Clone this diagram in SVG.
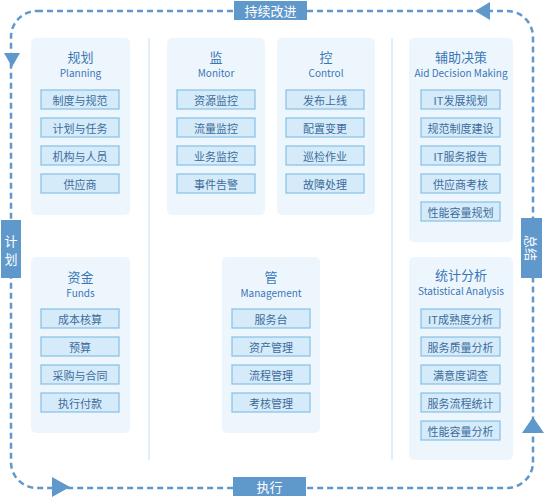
<svg xmlns="http://www.w3.org/2000/svg" width="545" height="500" viewBox="0 0 545 500">
<style>
text{font-family:"Noto Sans CJK SC","Noto Sans",sans-serif;}
.panel{fill:#EEF6FD;}
.item{fill:#D6EBF9;stroke:#86C0E6;stroke-width:1.2;}
.it{font-size:11px;fill:#3D6C9C;text-anchor:middle;dominant-baseline:central;}
.t1{font-size:13px;fill:#3A76B6;text-anchor:middle;dominant-baseline:central;}
.t2{font-size:10px;fill:#3A76B6;text-anchor:middle;dominant-baseline:central;}
.lab{fill:#5F98CB;}
.lt{font-size:13px;fill:#FFFFFF;text-anchor:middle;dominant-baseline:central;}
.loop{fill:none;stroke:#5F98CB;stroke-width:2.5;stroke-dasharray:6 4;}
.arr{fill:#5F98CB;}
.div{stroke:#D6E9F8;stroke-width:1.5;}
</style>
<g id="connectors">
<rect class="loop" x="11" y="11" width="522" height="477" rx="26"/>
<polygon class="arr" points="475,11 490,2 490,20"/>
<polygon class="arr" points="12,67 4,53 20,53"/>
<polygon class="arr" points="70,487 52,477 52,497"/>
<polygon class="arr" points="533,417 522,433 544,433"/>
</g>
<g id="dividers">
<line class="div" x1="149" y1="38" x2="149" y2="460"/>
<line class="div" x1="392" y1="38" x2="392" y2="460"/>
</g>
<g id="label-top"><rect class="lab" x="234" y="1" width="73" height="19"/><text class="lt" x="270.5" y="10.5">持续改进</text></g>
<g id="label-bottom"><rect class="lab" x="233" y="477" width="73" height="19"/><text class="lt" x="269.5" y="486.5">执行</text></g>
<g id="label-left"><rect class="lab" x="1" y="220" width="20" height="58"/><text class="lt" x="11" y="240">计</text><text class="lt" x="11" y="258">划</text></g>
<g id="label-right"><rect class="lab" x="521" y="218" width="21" height="60"/><text class="lt" transform="translate(531.5,248) rotate(90)" x="0" y="0">总结</text></g>
<g id="planning">
<rect class="panel" x="31" y="38" width="99" height="177" rx="5"/>
<text class="t1" x="80.5" y="56">规划</text><text class="t2" x="80.5" y="72">Planning</text>
<rect class="item" x="41" y="90" width="78" height="19"/><text class="it" x="80" y="99.5">制度与规范</text>
<rect class="item" x="41" y="118" width="78" height="19"/><text class="it" x="80" y="127.5">计划与任务</text>
<rect class="item" x="41" y="146" width="78" height="19"/><text class="it" x="80" y="155.5">机构与人员</text>
<rect class="item" x="41" y="174" width="78" height="19"/><text class="it" x="80" y="183.5">供应商</text>
</g>
<g id="funds">
<rect class="panel" x="31" y="257" width="99" height="176" rx="5"/>
<text class="t1" x="80.5" y="276">资金</text><text class="t2" x="80.5" y="292">Funds</text>
<rect class="item" x="41" y="309" width="78" height="19"/><text class="it" x="80" y="318.5">成本核算</text>
<rect class="item" x="41" y="337" width="78" height="19"/><text class="it" x="80" y="346.5">预算</text>
<rect class="item" x="41" y="365" width="78" height="19"/><text class="it" x="80" y="374.5">采购与合同</text>
<rect class="item" x="41" y="393" width="78" height="19"/><text class="it" x="80" y="402.5">执行付款</text>
</g>
<g id="monitor">
<rect class="panel" x="167" y="38" width="98" height="177" rx="5"/>
<text class="t1" x="216" y="56">监</text><text class="t2" x="216" y="72">Monitor</text>
<rect class="item" x="177" y="90" width="78" height="19"/><text class="it" x="216" y="99.5">资源监控</text>
<rect class="item" x="177" y="118" width="78" height="19"/><text class="it" x="216" y="127.5">流量监控</text>
<rect class="item" x="177" y="146" width="78" height="19"/><text class="it" x="216" y="155.5">业务监控</text>
<rect class="item" x="177" y="174" width="78" height="19"/><text class="it" x="216" y="183.5">事件告警</text>
</g>
<g id="control">
<rect class="panel" x="277" y="38" width="98" height="177" rx="5"/>
<text class="t1" x="326" y="56">控</text><text class="t2" x="326" y="72">Control</text>
<rect class="item" x="286" y="90" width="78" height="19"/><text class="it" x="325" y="99.5">发布上线</text>
<rect class="item" x="286" y="118" width="78" height="19"/><text class="it" x="325" y="127.5">配置变更</text>
<rect class="item" x="286" y="146" width="78" height="19"/><text class="it" x="325" y="155.5">巡检作业</text>
<rect class="item" x="286" y="174" width="78" height="19"/><text class="it" x="325" y="183.5">故障处理</text>
</g>
<g id="management">
<rect class="panel" x="222" y="257" width="98" height="176" rx="5"/>
<text class="t1" x="271" y="276">管</text><text class="t2" x="271" y="292">Management</text>
<rect class="item" x="232" y="309" width="78" height="19"/><text class="it" x="271" y="318.5">服务台</text>
<rect class="item" x="232" y="337" width="78" height="19"/><text class="it" x="271" y="346.5">资产管理</text>
<rect class="item" x="232" y="365" width="78" height="19"/><text class="it" x="271" y="374.5">流程管理</text>
<rect class="item" x="232" y="393" width="78" height="19"/><text class="it" x="271" y="402.5">考核管理</text>
</g>
<g id="aid-decision">
<rect class="panel" x="409" y="38" width="104" height="204" rx="5"/>
<text class="t1" x="461" y="56">辅助决策</text><text class="t2" x="461" y="72">Aid Decision Making</text>
<rect class="item" x="421" y="90" width="79" height="19"/><text class="it" x="460.5" y="99.5">IT发展规划</text>
<rect class="item" x="421" y="118" width="79" height="19"/><text class="it" x="460.5" y="127.5">规范制度建设</text>
<rect class="item" x="421" y="146" width="79" height="19"/><text class="it" x="460.5" y="155.5">IT服务报告</text>
<rect class="item" x="421" y="174" width="79" height="19"/><text class="it" x="460.5" y="183.5">供应商考核</text>
<rect class="item" x="421" y="202" width="79" height="19"/><text class="it" x="460.5" y="211.5">性能容量规划</text>
</g>
<g id="statistical-analysis">
<rect class="panel" x="409" y="257" width="104" height="203" rx="5"/>
<text class="t1" x="461" y="274">统计分析</text><text class="t2" x="461" y="290">Statistical Analysis</text>
<rect class="item" x="421" y="309" width="79" height="19"/><text class="it" x="460.5" y="318.5">IT成熟度分析</text>
<rect class="item" x="421" y="337" width="79" height="19"/><text class="it" x="460.5" y="346.5">服务质量分析</text>
<rect class="item" x="421" y="365" width="79" height="19"/><text class="it" x="460.5" y="374.5">满意度调查</text>
<rect class="item" x="421" y="393" width="79" height="19"/><text class="it" x="460.5" y="402.5">服务流程统计</text>
<rect class="item" x="421" y="421" width="79" height="19"/><text class="it" x="460.5" y="430.5">性能容量分析</text>
</g>
</svg>
